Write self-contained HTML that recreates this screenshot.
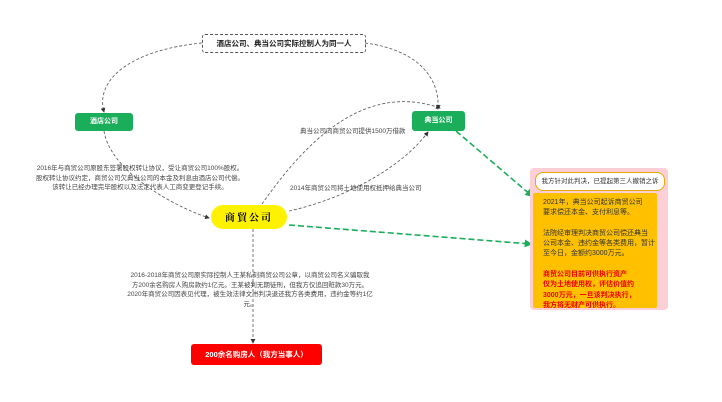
<!DOCTYPE html><html><head><meta charset="utf-8"><style>
body{margin:0;width:722px;height:402px;background:#fff;position:relative;overflow:hidden;font-family:"Liberation Sans","Noto Sans CJK SC",sans-serif}
.a{position:absolute}
.t{font-size:6.5px;color:#444;line-height:9.5px;text-align:center;white-space:nowrap}
</style></head><body>
<svg class="a" style="left:0;top:0" width="722" height="402">
<defs><marker id="m" markerWidth="6" markerHeight="6" refX="5" refY="3" orient="auto"><path d="M0,0L6,3L0,6z" fill="#333"/></marker>
<marker id="g" markerWidth="5" markerHeight="5" refX="4" refY="2.5" orient="auto"><path d="M0,0L5,2.5L0,5z" fill="#1aae5a"/></marker></defs>
<g fill="none" stroke="#555" stroke-width="0.8" stroke-dasharray="3,2">
<path d="M202,43 C130,50 95,80 104,112" marker-end="url(#m)"/>
<path d="M365,43 C420,50 440,80 438,109" marker-end="url(#m)"/>
<path d="M104,131 C110,170 170,205 209,218" marker-end="url(#m)"/>
<path d="M262,204 C300,150 360,80 440,108" marker-end="url(#m)"/>
<path d="M289,211 C340,200 400,170 428,132" marker-end="url(#m)"/>
<path d="M253,229 L253,343" marker-end="url(#m)"/>
</g>
<g fill="none" stroke="#1aae5a" stroke-width="1.6" stroke-dasharray="6,3">
<path d="M456,131 L532,196" marker-end="url(#g)"/>
<path d="M289,225 L531,244" marker-end="url(#g)"/>
</g>
</svg>
<div class="a" style="left:202px;top:34px;width:162px;height:17px;border:1px dashed #555;border-radius:3px;font-size:7.5px;font-weight:bold;line-height:17px;text-align:center;color:#222">酒店公司、典当公司实际控制人为同一人</div>
<div class="a" style="left:75px;top:113px;width:58px;height:18px;background:#1aae5a;border-radius:3px;color:#fff;font-size:7px;font-weight:bold;line-height:18px;text-align:center">酒店公司</div>
<div class="a" style="left:412px;top:111px;width:53px;height:20px;background:#1aae5a;border-radius:3px;color:#fff;font-size:7px;font-weight:bold;line-height:20px;text-align:center">典当公司</div>
<div class="a" style="left:211px;top:205px;width:76px;height:24px;background:#fff200;border-radius:12px;font-size:10px;font-weight:bold;line-height:24px;text-align:center;font-family:'Noto Serif CJK SC',serif;letter-spacing:2px">商貿公司</div>
<div class="a" style="left:191px;top:344px;width:131px;height:21px;background:#f00;border-radius:3px;color:#fff;font-size:7.5px;font-weight:bold;line-height:21px;text-align:center">200余名购房人（我方当事人）</div>
<div class="a t" style="left:25px;top:164px;width:230px">2016年与商贸公司原股东签署股权转让协议，受让商贸公司100%股权。<br>股权转让协议约定，商贸公司欠典当公司的本金及利息由酒店公司代偿。<br>该转让已经办理完毕股权以及法定代表人工商变更登记手续。</div>
<div class="a t" style="left:300px;top:127px">典当公司向商贸公司提供1500万借款</div>
<div class="a t" style="left:290px;top:184px">2014年商贸公司将土地使用权抵押给典当公司</div>
<div class="a t" style="left:125px;top:271px;width:250px">2016-2018年商贸公司原实际控制人王某私刻商贸公司公章，以商贸公司名义骗取我<br>方200余名购房人购房款约1亿元。王某被判无期徒刑，但我方仅追回赃款30万元。<br>2020年商贸公司因表见代理，被生效法律文书判决退还我方各类费用，违约金等约1亿<br>元。</div>
<div class="a" style="left:530px;top:168px;width:138px;height:142px;background:#fccfd6;border-radius:4px"></div>
<div class="a" style="left:535px;top:172px;width:128px;height:17px;background:#fff;border:1px solid #e8a800;border-radius:8px;font-size:6.5px;line-height:17px;text-align:center;color:#333">我方针对此判决，已提起第三人撤销之诉</div>
<div class="a" style="left:533px;top:193px;width:124px;height:115px;background:#ffc000;border-radius:2px;font-size:7px;line-height:10.3px;color:#333;padding:5px 0 0 10px;box-sizing:border-box">2021年，典当公司起诉商贸公司<br>要求偿还本金、支付利息等。<br><br>法院经审理判决商贸公司偿还典当<br>公司本金、违约金等各类费用，暂计<br>至今日，金额约3000万元。<br><br><span style="color:#e00;font-weight:bold">商贸公司目前可供执行资产<br>仅为土地使用权，评估价值约<br>3000万元，一旦该判决执行，<br>我方将无财产可供执行。</span></div>
</body></html>
